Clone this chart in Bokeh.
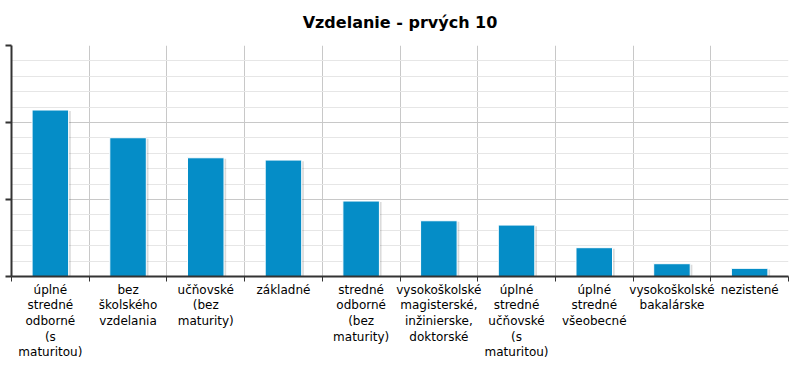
from bokeh.plotting import figure
from bokeh.models import Range1d, FixedTicker, ColumnDataSource
from bokeh.embed import file_html
from bokeh.resources import INLINE

categories = [
    "úplné stredné odborné (s maturitou)",
    "bez školského vzdelania",
    "učňovské (bez maturity)",
    "základné",
    "stredné odborné (bez maturity)",
    "vysokoškolské magisterské, inžinierske, doktorské",
    "úplné stredné učňovské (s maturitou)",
    "úplné stredné všeobecné",
    "vysokoškolské bakalárske",
    "nezistené",
]
wrapped_labels = [
    "úplné\nstredné\nodborné\n(s\nmaturitou)",
    "bez\nškolského\nvzdelania",
    "učňovské\n(bez\nmaturity)",
    "základné",
    "stredné\nodborné\n(bez\nmaturity)",
    "vysokoškolské\nmagisterské,\ninžinierske,\ndoktorské",
    "úplné\nstredné\nučňovské\n(s\nmaturitou)",
    "úplné\nstredné\nvšeobecné",
    "vysokoškolské\nbakalárske",
    "nezistené",
]
values = [1081000, 901000, 771000, 756000, 490000, 362000, 334000, 187000, 83000, 53000]
y_ticks = [0, 500000, 1000000, 1500000]
y_minor = list(range(0, 1500001, 100000))

n = len(categories)
centers = [i + 0.5 for i in range(n)]
bounds = list(range(n + 1))

src = ColumnDataSource(dict(x=centers, top=values, name=categories))
shadow = ColumnDataSource(dict(x=[c + 0.028 for c in centers],
                               top=[v - 7000 for v in values]))

p = figure(width=800, height=376, output_backend="svg", toolbar_location=None,
           x_range=Range1d(0, n), y_range=Range1d(0, 1500000),
           title="Vzdelanie - prvých 10")
p.min_border_left = 11
p.min_border_right = 12
p.min_border_top = 45
p.min_border_bottom = 100
p.outline_line_color = None

p.title.align = "center"
p.title.vertical_align = "top"
p.title.text_font = "DejaVu Sans"
p.title.text_font_size = "16px"
p.title.text_font_style = "bold"
p.title.text_color = "#000000"
p.title.standoff = 23

# grids
p.ygrid.ticker = FixedTicker(ticks=y_ticks, minor_ticks=y_minor)
p.ygrid.grid_line_color = "#c8c8c8"
p.ygrid.minor_grid_line_color = "#e6e6e6"
p.xgrid.ticker = FixedTicker(ticks=bounds[1:])
p.xgrid.grid_line_color = "#c8c8c8"

# y axis (no labels in the reference)
p.yaxis.ticker = FixedTicker(ticks=y_ticks)
p.yaxis.major_label_overrides = {t: "" for t in y_ticks}
p.yaxis.major_label_standoff = 0
p.yaxis.major_tick_out = 6
p.yaxis.major_tick_in = 0
p.yaxis.minor_tick_line_color = None
p.yaxis.axis_line_color = "#333333"
p.yaxis.axis_line_width = 2
p.yaxis.major_tick_line_color = "#333333"
p.yaxis.major_tick_line_width = 2

# x axis
p.xaxis.ticker = FixedTicker(ticks=centers, minor_ticks=bounds)
p.xaxis.major_label_overrides = {c: lab for c, lab in zip(centers, wrapped_labels)}
p.xaxis.major_tick_line_color = None
p.xaxis.minor_tick_line_color = "#333333"
p.xaxis.minor_tick_out = 5
p.xaxis.minor_tick_in = 0
p.xaxis.axis_line_color = "#333333"
p.xaxis.axis_line_width = 2
p.xaxis.major_label_text_font = "DejaVu Sans"
p.xaxis.major_label_text_font_size = "12px"
p.xaxis.major_label_text_color = "#000000"
p.xaxis.major_label_text_line_height = 1.12
p.xaxis.major_label_standoff = 0

p.vbar(x="x", top="top", width=0.47, source=shadow, fill_color="#000000",
       fill_alpha=0.14, line_color=None)
p.vbar(x="x", top="top", width=0.47, source=src, fill_color="#058dc7",
       line_color="#ffffff", line_width=1)

open("out.html", "w").write(file_html(p, INLINE))
